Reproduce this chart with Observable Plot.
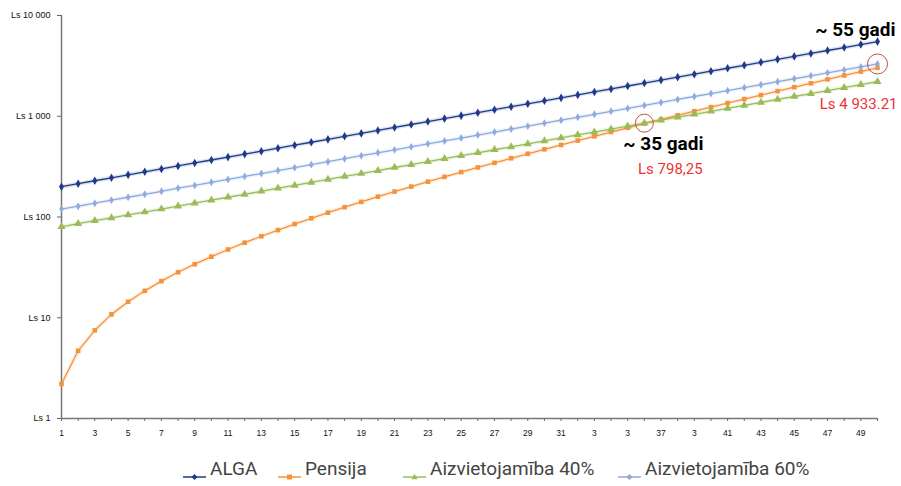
<!DOCTYPE html>
<html><head><meta charset="utf-8">
<script src="https://cdn.jsdelivr.net/npm/d3@7"></script>
<script src="https://cdn.jsdelivr.net/npm/@observablehq/plot@0.6"></script>
<style>
html,body{margin:0;padding:0;background:#fff;}
#wrap{position:relative;width:901px;height:486px;overflow:hidden;}
#legend{position:absolute;left:0;top:457px;width:901px;height:24px;font-family:Roboto,"Liberation Sans",sans-serif;font-size:19px;letter-spacing:0px;color:#444;}
.sw{position:absolute;top:7px;}
.tx{position:absolute;top:0;line-height:24px;white-space:nowrap;}
</style></head>
<body><div id="wrap"><div id="chart"></div><div id="legend"></div></div>
<script>
const years = [1,2,3,4,5,6,7,8,9,10,11,12,13,14,15,16,17,18,19,20,21,22,23,24,25,26,27,28,29,30,31,32,33,34,35,36,37,38,39,40,41,42,43,44,45,46,47,48,49,50];
const alga = [200,214,229,245,262,281,300,321,344,368,393,421,450,482,516,552,590,632,676,723,774,828,886,948,1014,1085,1161,1243,1330,1423,1522,1629,1743,1865,1996,2135,2285,2445,2616,2799,2995,3205,3429,3669,3926,4200,4495,4809,5146,5506];
const pensija = [2.2,4.7,7.5,10.8,14.4,18.5,23.1,28.3,34.0,40.4,47.6,55.6,64.4,74.2,85.1,97.1,110.4,125.1,141.3,159.1,178.8,200.4,224.2,250.3,279.0,310.5,345.0,382.8,424.2,469.5,519.2,573.4,632.7,697.5,768.3,845.6,929.9,1021.9,1122.2,1231.5,1350.7,1480.5,1621.9,1775.7,1943.2,2125.5,2323.7,2539.2,2773.6,3028.3];
const aiz40 = [80,86,92,98,105,112,120,128,137,147,157,168,180,193,206,221,236,253,270,289,310,331,354,379,406,434,465,497,532,569,609,652,697,746,798,854,914,978,1046,1120,1198,1282,1372,1468,1570,1680,1798,1924,2058,2202];
const aiz60 = [120,128,137,147,157,168,180,193,206,221,236,253,270,289,309,331,354,379,406,434,464,497,532,569,608,651,697,746,798,854,913,977,1046,1119,1197,1281,1371,1467,1570,1679,1797,1923,2057,2201,2356,2520,2697,2885,3088,3304];
const seriesNames = ["ALGA","Pensija","Aizvietojamība 40%","Aizvietojamība 60%"];
const seriesColors = ["#1F3A8C","#F7923A","#9BBB59","#8FAADC"];
const seriesSymbols = ["diamond","square","triangle","diamond"];
const yTickValues = [1,10,100,1000,10000];
const yTickLabels = ["Ls 1","Ls 10","Ls 100","Ls 1 000","Ls 10 000"];
const xTickValues = [1,3,5,7,9,11,13,15,17,19,21,23,25,27,29,31,33,35,37,39,41,43,45,47,49];
const xTickLabels = ["1","3","5","7","9","11","13","15","17","19","21","23","25","27","29","31","3","3","37","3","41","43","45","47","49"];
const note55 = "~ 55 gadi";
const note35 = "~ 35 gadi";
const noteLs35 = "Ls 798,25";
const noteLs55 = "Ls 4 933.21";

const seriesValues = [alga, pensija, aiz40, aiz60];
const rows = [];
seriesNames.forEach((s, si) => years.forEach((x, i) => rows.push({series: s, x, y: seriesValues[si][i]})));

const markR = {"ALGA": 2.6, "Pensija": 2.6, "Aizvietojamība 40%": 3.0, "Aizvietojamība 60%": 2.4};

const chart = Plot.plot({
  width: 901, height: 452,
  marginLeft: 61, marginRight: 24, marginTop: 15, marginBottom: 34,
  style: {fontFamily: "'Liberation Sans', Arial, sans-serif", fontSize: "8px", color: "#111", background: "#fff"},
  x: {type: "linear", domain: [1, 50]},
  y: {type: "log", domain: [1, 10000]},
  color: {domain: seriesNames, range: seriesColors},
  symbol: {domain: seriesNames, range: seriesSymbols},
  marks: [
    Plot.axisY({ticks: yTickValues, tickFormat: d => yTickLabels[yTickValues.indexOf(d)], tickSize: 4, tickPadding: 7, label: null, stroke: "#666", fontSize: 9, fill: "#111"}),
    Plot.axisX({ticks: years, tickFormat: d => { const k = xTickValues.indexOf(d); return k >= 0 ? xTickLabels[k] : ""; }, tickSize: 3, tickPadding: 8, label: null, stroke: "#666", fontSize: 8.5, fill: "#111"}),
    Plot.ruleX([1], {stroke: "#777", strokeWidth: 1.5}),
    Plot.ruleY([1], {stroke: "#777", strokeWidth: 1.5}),
    Plot.line(rows, {x: "x", y: "y", z: "series", stroke: "series", strokeWidth: 4, strokeOpacity: 0.15}),
    Plot.line(rows, {x: "x", y: "y", z: "series", stroke: "series", strokeWidth: 1.3}),
    ...seriesNames.map(s => Plot.dot(rows.filter(d => d.series === s), {x: "x", y: "y", symbol: "series", fill: "series", r: markR[s]})),
    Plot.dot([{x: years[35], y: aiz40[35]}], {x: "x", y: "y", r: 9, stroke: "#C0504D", strokeWidth: 1, fill: "none"}),
    Plot.dot([{x: years[49], y: aiz60[49]}], {x: "x", y: "y", r: 10, stroke: "#C0504D", strokeWidth: 1, fill: "none"}),
    Plot.text([{x: years[49], y: alga[49]}], {x: "x", y: "y", text: () => note55, textAnchor: "end", dx: 18, dy: -12, fontSize: 19, fontWeight: "bold", fill: "#000", fontFamily: "Roboto, sans-serif"}),
    Plot.text([{x: years[49], y: aiz60[49]}], {x: "x", y: "y", text: () => noteLs55, textAnchor: "end", dx: 20, dy: 40, fontSize: 15, fill: "#EE3333", fontFamily: "Roboto, sans-serif"}),
    Plot.text([{x: years[35], y: aiz40[35]}], {x: "x", y: "y", text: () => note35, textAnchor: "middle", dx: 19, dy: 21, fontSize: 19, fontWeight: "bold", fill: "#000", fontFamily: "Roboto, sans-serif"}),
    Plot.text([{x: years[35], y: aiz40[35]}], {x: "x", y: "y", text: () => noteLs35, textAnchor: "middle", dx: 26, dy: 46, fontSize: 15, fill: "#EE3333", fontFamily: "Roboto, sans-serif"})
  ]
});
document.getElementById("chart").appendChild(chart);

// legend
const legendTextLefts = [210, 305, 430, 645];
const legend = document.getElementById("legend");
const symPaths = {
  diamond: "M0,-3L3,0L0,3L-3,0Z",
  square: "M-2.5,-2.5h5v5h-5Z",
  triangle: "M0,-3.2L3,2.2L-3,2.2Z"
};
seriesNames.forEach((s, i) => {
  const sw = document.createElement("div");
  sw.className = "sw";
  sw.style.left = (legendTextLefts[i] - 27) + "px";
  sw.innerHTML = `<svg width="23" height="10"><line x1="0" x2="23" y1="5" y2="5" stroke="${seriesColors[i]}" stroke-width="1.5"/><path transform="translate(11.5,5)" d="${symPaths[seriesSymbols[i]]}" fill="${seriesColors[i]}"/></svg>`;
  legend.appendChild(sw);
  const tx = document.createElement("div");
  tx.className = "tx";
  tx.style.left = legendTextLefts[i] + "px";
  tx.textContent = s;
  legend.appendChild(tx);
});
</script>
</body></html>
